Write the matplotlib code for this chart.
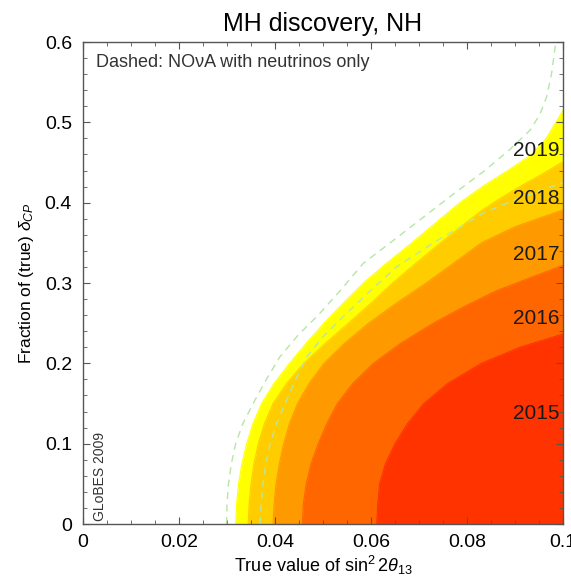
import numpy as np
import matplotlib
matplotlib.use("Agg")
import matplotlib.pyplot as plt
from matplotlib.ticker import MultipleLocator

plt.rcParams['font.family'] = ['Liberation Sans', 'DejaVu Sans']
plt.rcParams['mathtext.fontset'] = 'custom'
plt.rcParams['mathtext.rm'] = 'Liberation Sans'
plt.rcParams['mathtext.it'] = 'Liberation Sans:italic'

# limites de descubrimiento por año: fracción de delta_CP (y) -> sin^2 2theta13 (x)
years = ["2015", "2016", "2017", "2018", "2019"]
colors = ["#ff3300", "#ff6600", "#ff9900", "#ffcc00", "#ffff00"]

y_2015 = [0, 0.025, 0.05, 0.075, 0.1, 0.125, 0.15, 0.175, 0.2, 0.22, 0.2365]
x_2015 = [0.0612, 0.0614, 0.0618, 0.0630, 0.0650, 0.0676, 0.0710, 0.0760, 0.0830, 0.0910, 0.1]

y_2016 = [0, 0.025, 0.05, 0.075, 0.1, 0.125, 0.15, 0.175, 0.2, 0.225, 0.25, 0.27, 0.29, 0.305, 0.322]
x_2016 = [0.0457, 0.0459, 0.0465, 0.0475, 0.0490, 0.0508, 0.0530, 0.0562, 0.0605, 0.0662, 0.0730,
          0.0792, 0.0860, 0.0925, 0.1]

y_2017 = [0, 0.025, 0.05, 0.075, 0.1, 0.125, 0.15, 0.175, 0.2, 0.225, 0.25, 0.275, 0.3, 0.325,
          0.35, 0.37, 0.391]
x_2017 = [0.0396, 0.0398, 0.0402, 0.0409, 0.0418, 0.0430, 0.0447, 0.0471, 0.0502, 0.0545, 0.0595,
          0.0653, 0.0715, 0.0773, 0.0830, 0.0900, 0.1]

y_2018 = [0, 0.025, 0.05, 0.075, 0.1, 0.125, 0.15, 0.175, 0.2, 0.225, 0.25, 0.275, 0.3, 0.325,
          0.35, 0.37, 0.39, 0.405, 0.42, 0.435, 0.451]
x_2018 = [0.0344, 0.0346, 0.0350, 0.0356, 0.0365, 0.0378, 0.0396, 0.0424, 0.0460, 0.0505, 0.0553,
          0.0600, 0.0645, 0.0694, 0.0745, 0.0787, 0.0830, 0.0868, 0.0910, 0.0955, 0.1]

y_2019 = [0, 0.025, 0.05, 0.075, 0.1, 0.125, 0.15, 0.175, 0.2, 0.225, 0.25, 0.275, 0.3, 0.325,
          0.35, 0.375, 0.4, 0.42, 0.44, 0.46, 0.48, 0.5, 0.515]
x_2019 = [0.0318, 0.0320, 0.0324, 0.0331, 0.0341, 0.0354, 0.0372, 0.0398, 0.0430, 0.0465, 0.0502,
          0.0542, 0.0584, 0.0633, 0.0685, 0.0735, 0.0785, 0.0832, 0.0885, 0.0935, 0.0965, 0.0985, 0.1]

# curvas discontinuas (NOvA solo neutrinos)
y_dash_out = [0, 0.025, 0.05, 0.075, 0.1, 0.125, 0.154, 0.18, 0.208, 0.235, 0.26, 0.29, 0.3245,
              0.35, 0.38, 0.41, 0.4386, 0.465, 0.49, 0.51, 0.532, 0.56, 0.6]
x_dash_out = [0.0299, 0.0300, 0.0303, 0.0309, 0.0318, 0.0333, 0.0358, 0.0382, 0.0410, 0.0448,
              0.0490, 0.0535, 0.0584, 0.0640, 0.0705, 0.0770, 0.0834, 0.0887, 0.0931, 0.0952,
              0.0966, 0.0976, 0.0985]
y_dash_in = [0, 0.025, 0.05, 0.075, 0.1, 0.125, 0.154, 0.18, 0.208, 0.235, 0.26, 0.29, 0.32,
             0.35, 0.387, 0.405, 0.425]
x_dash_in = [0.0369, 0.0371, 0.0375, 0.0381, 0.0390, 0.0403, 0.0424, 0.0443, 0.0466, 0.0503,
             0.0545, 0.0598, 0.0653, 0.0730, 0.0834, 0.0905, 0.1]

label_y = [0.137, 0.256, 0.336, 0.405, 0.465]

fig = plt.figure(figsize=(5.71, 5.81), dpi=100)
ax = fig.add_axes([0.1454, 0.0981, 0.8406, 0.8296])

curves = [(x_2015, y_2015), (x_2016, y_2016), (x_2017, y_2017), (x_2018, y_2018), (x_2019, y_2019)]
# dibujar de fuera (2019) hacia dentro (2015)
for (xs, ys), c in reversed(list(zip(curves, colors))):
    ax.fill_betweenx(ys, xs, 0.1, color=c, linewidth=0, zorder=1)
    ax.plot(xs, ys, color=c, linewidth=0.8, zorder=1)

ax.plot(x_dash_out, y_dash_out, color='#b5e6a8', linestyle=(0, (5, 4)), linewidth=1.0, zorder=2)
ax.plot(x_dash_in, y_dash_in, color='#b5e6a8', linestyle=(0, (5, 4)), linewidth=1.0, zorder=2)

for yr, ly in zip(years, label_y):
    ax.text(0.0993, ly, yr, ha='right', va='center', fontsize=15, color='#1a1a1a', zorder=3)

ax.text(0.0028, 0.575, 'Dashed: NO\u03bdA with neutrinos only', fontsize=13, color='#333333',
        ha='left', va='center')
ax.text(0.0020, 0.004, 'GLoBES 2009', rotation=90, fontsize=10, color='#333333',
        ha='left', va='bottom')

ax.set_xlim(0, 0.1)
ax.set_ylim(0, 0.6)
ax.set_xticks([0, 0.02, 0.04, 0.06, 0.08, 0.1])
ax.set_xticklabels(['0', '0.02', '0.04', '0.06', '0.08', '0.1'])
ax.set_yticks([0, 0.1, 0.2, 0.3, 0.4, 0.5, 0.6])
ax.set_yticklabels(['0', '0.1', '0.2', '0.3', '0.4', '0.5', '0.6'])
ax.xaxis.set_minor_locator(MultipleLocator(0.005))
ax.yaxis.set_minor_locator(MultipleLocator(0.02))
ax.tick_params(which='both', direction='in', top=True, right=True, labelsize=14)
ax.tick_params(axis='x', pad=7)
ax.tick_params(axis='y', pad=8)
ax.tick_params(which='major', length=5, width=0.8, color='#555555')
ax.tick_params(which='minor', length=3, width=0.6, color='#555555')
for s in ax.spines.values():
    s.set_color('#555555')
    s.set_linewidth(1.0)

ax.set_title('MH discovery, NH', fontsize=18, pad=8)
ax.set_xlabel(r'True value of sin$^2\,2\theta_{13}$', fontsize=13, labelpad=2)
ax.set_ylabel(r'Fraction of (true) $\delta_{CP}$', fontsize=12.5, labelpad=6)

plt.savefig('out.png', dpi=100)
